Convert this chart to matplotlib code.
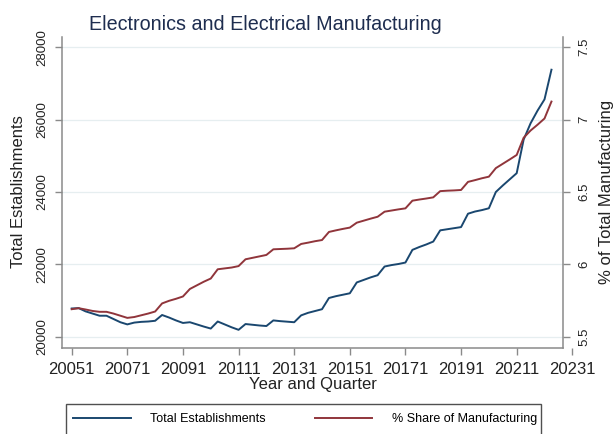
import matplotlib
matplotlib.use("Agg")
import matplotlib.pyplot as plt
from matplotlib.patches import Rectangle

plt.rcParams['font.family'] = ['Liberation Sans', 'DejaVu Sans']

# ---- data (quarterly, 2005Q1 .. 2022Q2) ----
establishments = [
    20780, 20790, 20700, 20640, 20580, 20580, 20490, 20400,
    20340, 20390, 20410, 20420, 20440, 20600, 20530, 20450,
    20380, 20400, 20340, 20280, 20225, 20420, 20340, 20260,
    20190, 20350, 20330, 20310, 20295, 20450, 20430, 20415,
    20400, 20590, 20660, 20710, 20760, 21070, 21120, 21160,
    21200, 21500, 21570, 21640, 21700, 21940, 21980, 22010,
    22050, 22400, 22480, 22550, 22630, 22940, 22970, 23000,
    23030, 23400, 23460, 23500, 23550, 24000, 24180, 24350,
    24520, 25450, 25900, 26250, 26560, 27380,
]
share_pct = [
    5.690, 5.697, 5.688, 5.678, 5.672, 5.672, 5.660, 5.645,
    5.630, 5.636, 5.648, 5.660, 5.674, 5.730, 5.748, 5.762,
    5.778, 5.830, 5.855, 5.880, 5.902, 5.966, 5.972, 5.978,
    5.988, 6.035, 6.045, 6.055, 6.065, 6.104, 6.106, 6.108,
    6.111, 6.141, 6.150, 6.160, 6.168, 6.224, 6.235, 6.245,
    6.254, 6.288, 6.302, 6.316, 6.329, 6.364, 6.372, 6.380,
    6.387, 6.440, 6.448, 6.455, 6.463, 6.506, 6.509, 6.511,
    6.514, 6.570, 6.582, 6.595, 6.606, 6.665, 6.695, 6.725,
    6.756, 6.875, 6.925, 6.965, 7.008, 7.125,
]
quarter_index = list(range(len(establishments)))
xtick_pos = [0, 8, 16, 24, 32, 40, 48, 56, 64, 72]
xtick_labels = ["20051", "20071", "20091", "20111", "20131",
                "20151", "20171", "20191", "20211", "20231"]
left_ticks = [20000, 22000, 24000, 26000, 28000]
right_ticks = [5.5, 6, 6.5, 7, 7.5]
right_tick_labels = ["5.5", "6", "6.5", "7", "7.5"]

blue = '#1a476f'
red = '#90353b'
spine_c = '#8a8a8a'
grid_c = '#e6eef0'
text_c = '#222222'
title_c = '#1e2d4f'

W, H = 616, 434
fig = plt.figure(figsize=(W / 100, H / 100), dpi=100)
fig.patch.set_facecolor('white')
ax = fig.add_axes([62 / W, (H - 348) / H, (576 - 62) / W, (348 - 36.7) / H])
ax2 = ax.twinx()

x_lo, x_hi, x_spine = -1.395, 72.53, 70.70
ax.set_xlim(x_lo, x_hi)
ax.set_ylim(19687.6, 28293)
ax2.set_ylim(5.4219, 7.5733)

ax.hlines(left_ticks, x_lo, x_spine, colors=grid_c, lw=0.9, zorder=0)

l1, = ax.plot(quarter_index, establishments, color=blue, lw=1.4, zorder=3)
l2, = ax2.plot(quarter_index, share_pct, color=red, lw=1.4, zorder=3)

for a in (ax, ax2):
    a.spines['top'].set_visible(False)
ax.spines['right'].set_visible(False)
ax2.spines['left'].set_visible(False)
ax2.spines['bottom'].set_visible(False)
ax.spines['left'].set_color(spine_c)
ax.spines['left'].set_linewidth(1.1)
ax.spines['bottom'].set_color(spine_c)
ax.spines['bottom'].set_linewidth(1.1)
ax.spines['bottom'].set_bounds(x_lo, x_spine)
ax2.spines['right'].set_position(('data', x_spine))
ax2.spines['right'].set_color(spine_c)
ax2.spines['right'].set_linewidth(1.1)

ax.set_xticks(xtick_pos)
ax.set_xticklabels(xtick_labels)
ax.tick_params(axis='x', direction='out', length=5, width=1, color=spine_c,
               labelsize=12, labelcolor=text_c, pad=5)
ax.set_yticks(left_ticks)
ax.set_yticklabels([str(t) for t in left_ticks], rotation=90, va='center')
ax.tick_params(axis='y', direction='out', length=5, width=1, color=spine_c,
               labelsize=9.5, labelcolor=text_c, pad=5)
ax2.set_yticks(right_ticks)
ax2.set_yticklabels(right_tick_labels, rotation=90, va='center')
ax2.tick_params(axis='y', direction='out', length=5, width=1, color=spine_c,
                labelsize=9.5, labelcolor=text_c, pad=6)

ax.set_xlabel('Year and Quarter', fontsize=12, color=text_c)
ax.xaxis.set_label_coords((312.5 - 62) / (576 - 62), (348 - 377) / (348 - 36.7))

fig.text(19 / W, 1 - 192 / H, 'Total Establishments', rotation=90,
         ha='center', va='center', fontsize=12, color=text_c)
fig.text(606 / W, 1 - 192 / H, '% of Total Manufacturing', rotation=90,
         ha='center', va='center', fontsize=12, color=text_c)
fig.text(265 / W, 1 - 24 / H, 'Electronics and Electrical Manufacturing',
         ha='center', va='center', fontsize=14.2, color=title_c)

fig.legend(handles=[l1, l2], labels=['Total Establishments', '% Share of Manufacturing'],
           loc='center left', bbox_to_anchor=(73 / W, 1 - 419 / H), ncol=2,
           frameon=False, borderpad=0, borderaxespad=0, handlelength=4.6,
           handletextpad=1.6, columnspacing=3.9, fontsize=9)
fig.patches.append(Rectangle((66 / W, -0.05), (541 - 66) / W, (434 - 404) / H + 0.05,
                             transform=fig.transFigure, fill=False,
                             edgecolor='#505050', lw=1.0))

fig.savefig('out.png', dpi=100)
